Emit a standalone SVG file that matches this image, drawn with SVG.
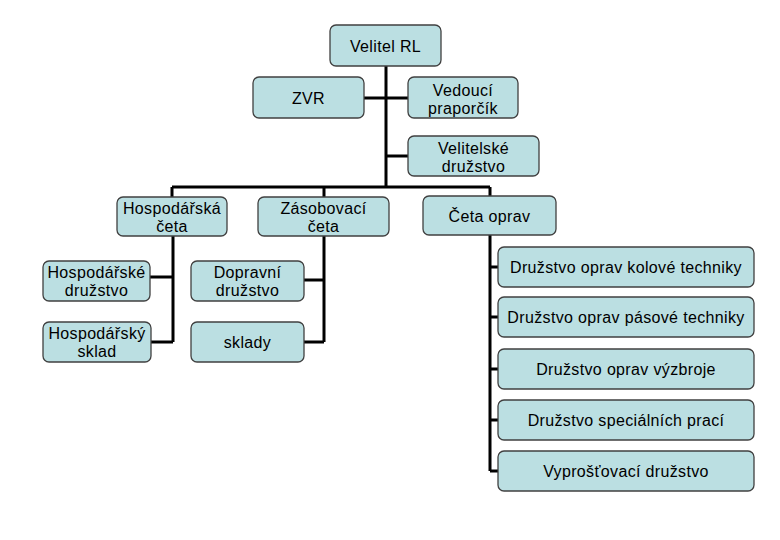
<svg xmlns="http://www.w3.org/2000/svg" width="780" height="540" viewBox="0 0 780 540">
<style>
.box{fill:#bbdfe2;stroke:#404040;stroke-width:1.3}
.t{font-family:"Liberation Sans",Arial,sans-serif;font-size:16px;letter-spacing:0.35px;fill:#000;text-anchor:middle}
.c{fill:none;stroke:#000;stroke-width:3}
</style>
<rect width="780" height="540" fill="#fff"/>
<g id="connectors">
<path class="c" d="M386 66V187M364 98H408M386 156H408M172 187H490M172 187V197M324 187V197M490 187V196"/>
<path class="c" d="M173 236V342M150 277H173M151 342H173"/>
<path class="c" d="M324 236V342M304 280H324M304 342H324"/>
<path class="c" d="M490 235V471M490 267H498M490 317H498M490 369H498M490 420H498M490 471H498"/>
</g>
<g id="velitel"><rect class="box" x="330" y="25" width="111" height="41" rx="6"/><text class="t" x="385.5" y="52">Velitel RL</text></g>
<g id="zvr"><rect class="box" x="253" y="77" width="111" height="41" rx="6"/><text class="t" x="308.5" y="104">ZVR</text></g>
<g id="vedouci"><rect class="box" x="408" y="77" width="110" height="41" rx="6"/><text class="t" x="463" y="96">Vedoucí</text><text class="t" x="463" y="114">praporčík</text></g>
<g id="velitelske"><rect class="box" x="408" y="136" width="131" height="40" rx="6"/><text class="t" x="473.5" y="154">Velitelské</text><text class="t" x="473.5" y="172">družstvo</text></g>
<g id="hosp-ceta"><rect class="box" x="117" y="197" width="110" height="39" rx="6"/><text class="t" x="172" y="214">Hospodářská</text><text class="t" x="172" y="232">četa</text></g>
<g id="zas-ceta"><rect class="box" x="258" y="197" width="131" height="39" rx="6"/><text class="t" x="323.5" y="214">Zásobovací</text><text class="t" x="323.5" y="232">četa</text></g>
<g id="ceta-oprav"><rect class="box" x="423" y="196" width="133" height="39" rx="6"/><text class="t" x="489.5" y="222">Četa oprav</text></g>
<g id="hosp-druzstvo"><rect class="box" x="43" y="261" width="107" height="40" rx="6"/><text class="t" x="96.5" y="278">Hospodářské</text><text class="t" x="96.5" y="296">družstvo</text></g>
<g id="hosp-sklad"><rect class="box" x="43" y="322" width="108" height="40" rx="6"/><text class="t" x="97" y="339">Hospodářský</text><text class="t" x="97" y="357">sklad</text></g>
<g id="dopravni"><rect class="box" x="191" y="261" width="113" height="40" rx="6"/><text class="t" x="247.5" y="278">Dopravní</text><text class="t" x="247.5" y="296">družstvo</text></g>
<g id="sklady"><rect class="box" x="191" y="322" width="113" height="40" rx="6"/><text class="t" x="247.5" y="348">sklady</text></g>
<g id="kolove"><rect class="box" x="498" y="247" width="256" height="40" rx="6"/><text class="t" x="626" y="273">Družstvo oprav kolové techniky</text></g>
<g id="pasove"><rect class="box" x="498" y="297" width="256" height="40" rx="6"/><text class="t" x="626" y="323">Družstvo oprav pásové techniky</text></g>
<g id="vyzbroje"><rect class="box" x="498" y="349" width="256" height="40" rx="6"/><text class="t" x="626" y="375">Družstvo oprav výzbroje</text></g>
<g id="specialnich"><rect class="box" x="498" y="400" width="256" height="40" rx="6"/><text class="t" x="626" y="426">Družstvo speciálních prací</text></g>
<g id="vyprostovaci"><rect class="box" x="498" y="451" width="256" height="40" rx="6"/><text class="t" x="626" y="477">Vyprošťovací družstvo</text></g>
</svg>
